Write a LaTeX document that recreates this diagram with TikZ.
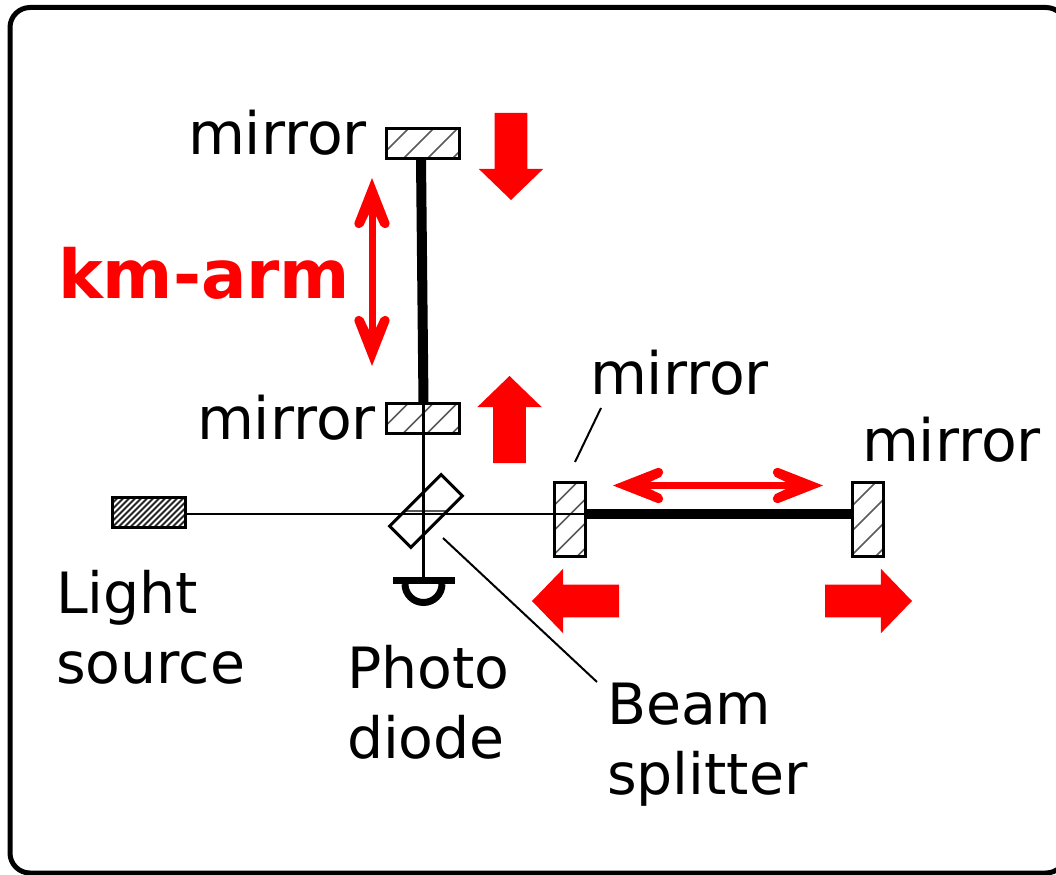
\documentclass[tikz,border=0pt]{standalone}
\usepackage{fontspec}
\setmainfont{DejaVu Sans}
\usetikzlibrary{shapes.arrows}

\def\px{0.02cm}

\pgfdeclarearrow{
  name = ArmTip,
  setup code = {
    \pgfarrowssettipend{0pt}
    \pgfarrowssetlineend{-14pt}
    \pgfarrowssetvisualbackend{-28pt}
    \pgfarrowssetbackend{-28pt}
  },
  drawing code = {
    \pgfpathmoveto{\pgfpoint{0pt}{0pt}}
    \pgfpathlineto{\pgfpoint{-25.2pt}{9.9pt}}
    \pgfpathlineto{\pgfpoint{-27.5pt}{5.1pt}}
    \pgfpathlineto{\pgfpoint{-17pt}{0pt}}
    \pgfpathlineto{\pgfpoint{-27.5pt}{-5.1pt}}
    \pgfpathlineto{\pgfpoint{-25.2pt}{-9.9pt}}
    \pgfpathclose
    \pgfpathcircle{\pgfpoint{-26pt}{7.5pt}}{2.55pt}
    \pgfpathcircle{\pgfpoint{-26pt}{-7.5pt}}{2.55pt}
    \pgfusepathqfill
  },
}

\tikzset{
    txt/.style={anchor=base west, inner sep=0pt, outer sep=0pt, align=left,
        font=\fontsize{32.4}{39.7}\selectfont},
    mirrortxt/.style={txt, font=\fontsize{33.3}{39.7}\selectfont},
    hatched/.style={draw, line width=3*\px, inner sep=0pt, outer sep=0pt,
        path picture={
            \foreach \s in {-29,-4,20,45}
                \draw[black!65, line width=1.5*\px]
                    ([shift={(\s+60,-60)}]path picture bounding box.center) --
                    ([shift={(\s-60,60)}]path picture bounding box.center);
        }},
    mirrorh/.style={hatched, minimum width=73*\px, minimum height=30*\px},
    mirrorv/.style={hatched, minimum width=31*\px, minimum height=74*\px},
    block/.style={single arrow, fill=red, inner xsep=0pt, inner ysep=16*\px, outer sep=0pt,
        anchor=tail, minimum width=64*\px, minimum height=87*\px,
        single arrow head extend=16*\px, single arrow tip angle=92},
    beam/.style={line width=2.6*\px},
    arm/.style={line width=10*\px},
    lead/.style={line width=2*\px},
    span/.style={red, line width=7*\px, {ArmTip}-{ArmTip}},
}

\begin{document}
\begin{tikzpicture}[x=\px, y=-\px]
    \useasboundingbox (0,0) rectangle (1056,875);
    \draw[line width=5*\px, rounded corners=20*\px] (10,7.5) rectangle (1066,873);

    \node[mirrorh] (mirrortop) at (422.5,143.5) {};
    \node[mirrorh] (mirrorlow) at (422.5,418) {};
    \node[mirrorv] (mirrornear) at (569.5,519) {};
    \node[mirrorv] (mirrorfar) at (867.5,519.5) {};
    \node[draw, line width=3.5*\px, inner sep=0pt, outer sep=0pt,
        minimum width=73*\px, minimum height=30*\px,
        path picture={
            \foreach \s in {-100,-94,...,100}
                \draw[black!85, line width=2*\px]
                    ([shift={(\s+40,-40)}]path picture bounding box.center) --
                    ([shift={(\s-40,40)}]path picture bounding box.center);
        }] (source) at (149,512.5) {};
    \node[draw, line width=3*\px, rotate=45, inner sep=0pt, outer sep=0pt,
        minimum width=73*\px, minimum height=30*\px,
        path picture={
            \draw[black!65, line width=1.5*\px]
                (path picture bounding box.west) -- (path picture bounding box.east);
        }] (splitter) at (426,511) {};
    \node[fill=black, inner sep=0pt, outer sep=0pt,
        minimum width=62*\px, minimum height=7*\px] (diode) at (424,580.5) {};
    \draw[line width=7*\px] (405,584) arc[start angle=180, end angle=0, radius=18.5];

    \coordinate (cross) at (423.5,514);
    \draw[beam] (source.east |- cross) -- (cross -| mirrornear.east);
    \draw[beam] (mirrorlow.north -| cross) -- (diode.north -| cross);
    \draw[arm] ([xshift=-1.5*\px]mirrortop.south) -- ([xshift=1*\px]mirrorlow.north);
    \draw[arm] (cross -| mirrornear.east) -- (cross -| mirrorfar.west);

    \node[block, rotate=-90] (pushtop) at (511,113) {};
    \node[block, rotate=90] (pushlow) at (509.5,463) {};
    \node[block, rotate=180] (pushnear) at (619,601) {};
    \node[block] (pushfar) at (825,601) {};

    \coordinate (armtop) at (372,178);
    \coordinate (armlow) at (372,366);
    \coordinate (armnear) at (613,485.5);
    \coordinate (armfar) at (823,485.5);
    \draw[span] (armtop) -- (armlow);
    \draw[span] (armnear) -- (armfar);

    \node[mirrortxt] (labeltop) at (188,155) {mirror};
    \node[mirrortxt] (labellow) at (197,439) {mirror};
    \node[mirrortxt] (labelnear) at (590,394) {mirror};
    \node[mirrortxt] (labelfar) at (862,461) {mirror};
    \node[txt, red, font=\fontsize{38.4}{46}\selectfont\bfseries] (labelarm) at (58,298) {km-arm};
    \node[txt] (labelsource) at (56,683) {Light\\source};
    \node[txt] (labeldiode) at (347,758.5) {Photo\\diode};
    \node[txt] (labelsplitter) at (607,794) {Beam\\splitter};

    \coordinate (leadnear) at (601,408);
    \coordinate (leadnearend) at (575,462);
    \coordinate (leadsplit) at (443,538);
    \coordinate (leadsplitend) at (597,682);
    \draw[lead] (leadnear) -- (leadnearend);
    \draw[lead] (leadsplit) -- (leadsplitend);
\end{tikzpicture}
\end{document}
